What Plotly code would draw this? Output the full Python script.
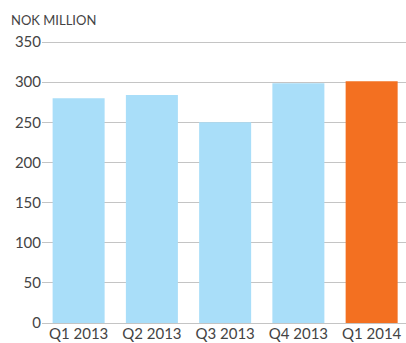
import plotly.graph_objects as go

categories = ["Q1 2013", "Q2 2013", "Q3 2013", "Q4 2013", "Q1 2014"]
values = [280, 284, 250, 298.5, 301]
colors = ["#A9DEF9", "#A9DEF9", "#A9DEF9", "#A9DEF9", "#F37021"]
y_ticks = [0, 50, 100, 150, 200, 250, 300, 350]

fig = go.Figure(go.Bar(x=categories, y=values, marker=dict(color=colors, line=dict(width=0)), hoverinfo="skip"))

fig.update_layout(
    width=406, height=343,
    margin=dict(l=42, r=0, t=38, b=20),
    paper_bgcolor="white", plot_bgcolor="white",
    bargap=0.29,
    showlegend=False,
    font=dict(family="Lato, sans-serif", size=15, color="#444444"),
    xaxis=dict(range=[-0.5, 4.469], showgrid=False, showline=False, ticks="",
               tickfont=dict(size=15, color="#444444"), fixedrange=True),
    yaxis=dict(range=[0, 355], tickvals=y_ticks, showgrid=True, gridcolor="#C4C4C4", gridwidth=1,
               zeroline=True, zerolinecolor="#C4C4C4", zerolinewidth=1, showline=False,
               ticks="", tickfont=dict(size=15, color="#444444"), fixedrange=True),
    annotations=[dict(text="NOK MILLION", xref="paper", yref="paper", x=(9 - 42) / 364, y=1 + 18 / 285,
                      xanchor="left", yanchor="middle", showarrow=False,
                      font=dict(size=13, color="#444444"))],
)

fig.write_html("out.html")
